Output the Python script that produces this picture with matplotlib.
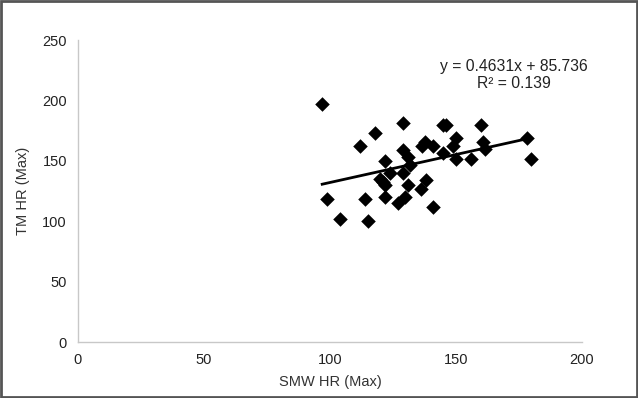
import matplotlib
matplotlib.use("Agg")
import matplotlib.pyplot as plt
import numpy as np

plt.rcParams['font.family'] = ['Liberation Sans', 'DejaVu Sans']

smw_hr = [96.9, 98.8, 104.1, 111.9, 113.8, 114.9, 118.0, 119.9, 120.9, 121.9,
          121.9, 121.9, 124.0, 126.9, 128.8, 128.8, 128.8, 129.8, 130.9, 130.9,
          131.9, 136.1, 136.7, 137.7, 137.9, 140.9, 140.9, 144.8, 144.8, 145.9,
          148.8, 150.0, 150.0, 155.9, 159.8, 160.8, 161.7, 178.0, 179.7]
tm_hr = [197.0, 118.7, 101.6, 162.6, 118.7, 100.0, 173.1, 135.2, 132.4, 129.7,
         149.7, 120.1, 139.6, 114.8, 181.3, 159.1, 139.8, 119.8, 129.7, 153.3,
         146.2, 126.6, 162.1, 165.9, 134.1, 162.1, 111.5, 156.6, 179.4, 179.4,
         162.1, 168.7, 151.6, 151.6, 179.9, 165.4, 159.9, 169.2, 151.9]
slope = 0.4631
intercept = 85.736
r2 = 0.139
x_ticks = [0, 50, 100, 150, 200]
y_ticks = [0, 50, 100, 150, 200, 250]

fig = plt.figure(figsize=(6.38, 3.98), dpi=100)
ax = fig.add_axes([78/638, 1-342/398, (582-78)/638, (342-40)/398])

ax.scatter(smw_hr, tm_hr, marker='D', s=55, color='black', zorder=3, linewidths=0)
xs = np.array([min(smw_hr), max(smw_hr)])
ax.plot(xs, slope*xs + intercept, color='black', lw=2, zorder=2)

ax.set_xlim(0, 200)
ax.set_ylim(0, 250)
ax.set_xticks(x_ticks)
ax.set_yticks(y_ticks)
ax.tick_params(length=0, labelsize=10.5, colors='#222222', pad=8)
for s in ['top', 'right']:
    ax.spines[s].set_visible(False)
for s in ['left', 'bottom']:
    ax.spines[s].set_color('#c8c8c8')
    ax.spines[s].set_linewidth(1)

ax.set_xlabel('SMW HR (Max)', fontsize=10.5, color='#333333', labelpad=6)
ax.set_ylabel('TM HR (Max)', fontsize=10.5, color='#333333', labelpad=9)

ax.text(173, 221, f'y = {slope}x + {intercept}\nR² = {r2}', ha='center', va='center',
        fontsize=11.3, color='#222222', linespacing=1.1)

border = plt.Rectangle((0.0015, 0.0025), 0.997, 0.995, transform=fig.transFigure,
                       fill=False, edgecolor='#555555', lw=2)
fig.patches.append(border)

fig.savefig('out.png', dpi=100)
